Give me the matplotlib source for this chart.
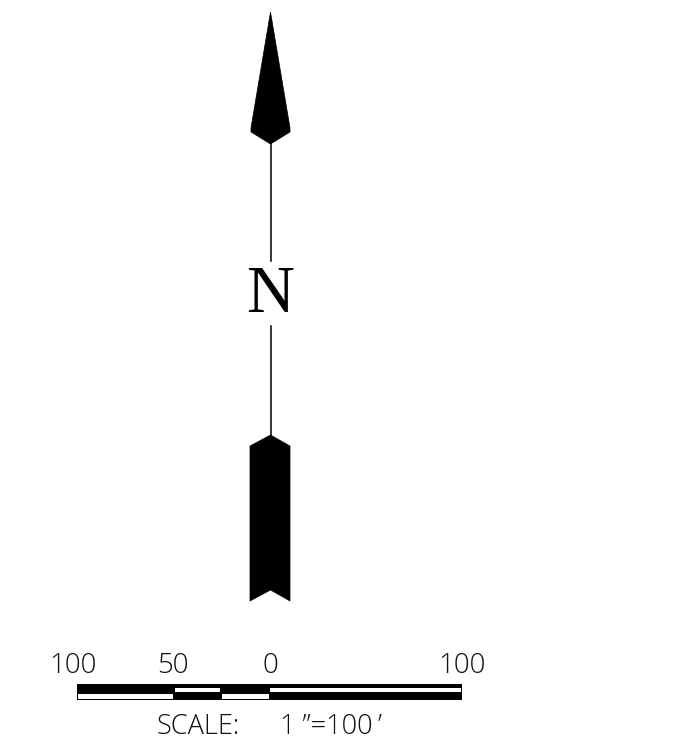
import matplotlib
matplotlib.use("Agg")
import matplotlib.pyplot as plt
from matplotlib.patches import Polygon, Rectangle

# outlines in reference pixels
head_x = [270.5, 290, 290, 270.5, 251, 251]
head_y = [12, 128, 132, 144, 132, 128]
tail_x = [270.5, 290, 290, 270.5, 250, 250]
tail_y = [435, 446, 601, 590, 601, 446]
shaft_x = [270.5, 270.5]
shaft_top = [144, 261]
shaft_bottom = [326, 436]

# scale bar
bar_left, bar_right = 77, 462
bar_top, bar_bottom = 684, 700
upper_white = [(175, 220), (270, 461)]
lower_white = [(78, 173), (222, 269)]
scale_labels = ["100", "50", "0", "100"]
scale_label_x = [73.5, 173, 270, 462]

fig = plt.figure(figsize=(6.92, 7.41), dpi=100)
ax = fig.add_axes([0, 0, 1, 1])
ax.set_xlim(0, 692)
ax.set_ylim(741, 0)
ax.axis("off")

ax.add_patch(Polygon(list(zip(head_x, head_y)), closed=True, fc="black", ec="black", lw=0.5))
ax.add_patch(Polygon(list(zip(tail_x, tail_y)), closed=True, fc="black", ec="black", lw=0.5))
ax.plot(shaft_x, shaft_top, color="black", lw=1.1)
ax.plot(shaft_x, shaft_bottom, color="black", lw=1.1)

ax.text(270.5, 296, "N", family="Liberation Serif", fontsize=48, ha="center", va="center", color="black")

ax.add_patch(Rectangle((bar_left, bar_top), bar_right - bar_left, bar_bottom - bar_top, fc="black", ec="none"))
for x0, x1 in upper_white:
    ax.add_patch(Rectangle((x0, 687.5), x1 - x0, 4, fc="white", ec="none"))
for x0, x1 in lower_white:
    ax.add_patch(Rectangle((x0, 694), x1 - x0, 4.5, fc="white", ec="none"))

for x, lab in zip(scale_label_x, scale_labels):
    ax.text(x, 666, lab, family="Open Sans", fontweight="light", fontsize=20, ha="center", va="center", color="#111111")

ax.text(198.5, 727.5, "SCALE:", family="Open Sans", fontweight="light", fontsize=19.5, ha="center", va="center", color="#111111")
ax.text(331, 727.5, "1 \u201d=100\u2009\u2019", family="Open Sans", fontweight="light", fontsize=19.5, ha="center", va="center", color="#111111")

fig.savefig("out.png", dpi=100, facecolor="white")
